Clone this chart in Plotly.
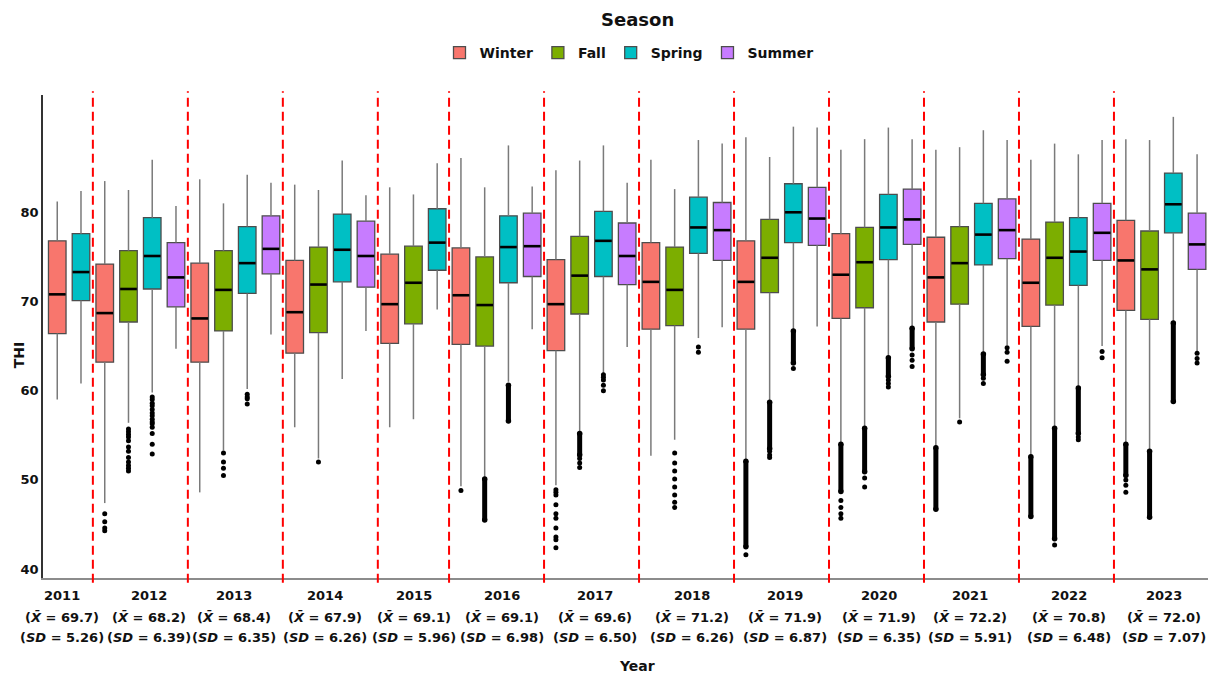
import plotly.graph_objects as go

# ---------------- data ----------------
years = [2011, 2012, 2013, 2014, 2015, 2016, 2017, 2018, 2019, 2020, 2021, 2022, 2023]
year_mean = [69.7, 68.2, 68.4, 67.9, 69.1, 69.1, 69.6, 71.2, 71.9, 71.9, 72.2, 70.8, 72.0]
year_sd = ["5.26", "6.39", "6.35", "6.26", "5.96", "6.98", "6.50", "6.26", "6.87", "6.35", "5.91", "6.48", "7.07"]

seasons = ["Winter", "Fall", "Spring", "Summer"]
season_colors = {"Winter": "#F8766D", "Fall": "#7CAE00", "Spring": "#00BFC4", "Summer": "#C77CFF"}

box_year = [2011, 2011,
            2012, 2012, 2012, 2012,
            2013, 2013, 2013, 2013,
            2014, 2014, 2014, 2014,
            2015, 2015, 2015,
            2016, 2016, 2016, 2016,
            2017, 2017, 2017, 2017,
            2018, 2018, 2018, 2018,
            2019, 2019, 2019, 2019,
            2020, 2020, 2020, 2020,
            2021, 2021, 2021, 2021,
            2022, 2022, 2022, 2022,
            2023, 2023, 2023, 2023]
box_season = ["Winter", "Spring",
              "Winter", "Fall", "Spring", "Summer",
              "Winter", "Fall", "Spring", "Summer",
              "Winter", "Fall", "Spring", "Summer",
              "Winter", "Fall", "Spring",
              "Winter", "Fall", "Spring", "Summer",
              "Winter", "Fall", "Spring", "Summer",
              "Winter", "Fall", "Spring", "Summer",
              "Winter", "Fall", "Spring", "Summer",
              "Winter", "Fall", "Spring", "Summer",
              "Winter", "Fall", "Spring", "Summer",
              "Winter", "Fall", "Spring", "Summer",
              "Winter", "Fall", "Spring", "Summer"]
box_low = [59.0, 60.8,
           47.4, 56.4, 59.8, 64.7,
           48.6, 53.3, 60.2, 66.3,
           55.9, 52.4, 61.3, 66.7,
           55.9, 56.8, 69.1,
           49.3, 50.2, 61.0, 66.9,
           49.4, 55.4, 61.9, 64.9,
           52.7, 54.5, 65.9, 67.1,
           52.2, 58.8, 66.8, 67.2,
           54.1, 56.0, 63.8, 67.1,
           53.7, 56.9, 64.2, 65.1,
           52.7, 56.0, 60.3, 65.0,
           54.1, 53.3, 67.7, 64.4]
box_q1 = [66.4, 70.1,
          63.2, 67.7, 71.4, 69.4,
          63.2, 66.7, 70.9, 73.1,
          64.2, 66.5, 72.2, 71.6,
          65.3, 67.5, 73.5,
          65.2, 65.0, 72.1, 72.8,
          64.5, 68.6, 72.8, 71.9,
          66.9, 67.3, 75.4, 74.6,
          66.9, 71.0, 76.6, 76.3,
          68.1, 69.3, 74.7, 76.4,
          67.7, 69.7, 74.1, 74.8,
          67.2, 69.6, 71.8, 74.6,
          69.0, 68.0, 77.7, 73.6]
box_med = [70.8, 73.3,
           68.7, 71.4, 75.1, 72.7,
           68.1, 71.3, 74.3, 75.9,
           68.8, 71.9, 75.8, 75.1,
           69.7, 72.1, 76.6,
           70.7, 69.6, 76.1, 76.2,
           69.7, 72.9, 76.8, 75.1,
           72.2, 71.3, 78.3, 78.0,
           72.2, 74.9, 80.0, 79.3,
           73.0, 74.4, 78.3, 79.2,
           72.7, 74.3, 77.5, 78.0,
           72.1, 74.9, 75.6, 77.7,
           74.6, 73.6, 80.9, 76.4]
box_q3 = [76.8, 77.6,
          74.2, 75.7, 79.4, 76.6,
          74.3, 75.7, 78.4, 79.6,
          74.6, 76.1, 79.8, 79.0,
          75.3, 76.2, 80.4,
          76.0, 75.0, 79.6, 79.9,
          74.7, 77.3, 80.1, 78.8,
          76.6, 76.1, 81.7, 81.1,
          76.8, 79.2, 83.2, 82.8,
          77.6, 78.3, 82.0, 82.6,
          77.2, 78.4, 81.0, 81.5,
          77.0, 78.9, 79.4, 81.0,
          79.1, 77.9, 84.4, 79.9]
box_high = [81.2, 82.4,
            83.5, 82.5, 85.9, 80.7,
            83.7, 81.0, 84.2, 83.3,
            83.1, 82.5, 85.8, 81.9,
            82.8, 82.0, 85.5,
            86.1, 82.8, 87.5, 82.9,
            84.7, 85.8, 87.5, 83.3,
            85.9, 82.6, 88.1, 87.7,
            88.4, 86.2, 89.6, 89.5,
            87.0, 88.2, 89.5, 88.2,
            87.0, 87.3, 89.2, 88.1,
            85.9, 87.7, 86.5, 88.1,
            88.2, 88.1, 90.7, 86.5]

# individual outliers: (box index, THI value)
outlier_box = ([2] * 4 + [3] * 12 + [4] * 14 + [7] * 4 + [8] * 4 + [11] + [17] + [21] * 10 + [22] * 3
               + [23] * 5 + [26] * 8 + [27] * 2 + [29] + [30] * 3 + [31] + [33] * 4 + [34] * 2
               + [35] * 3 + [36] * 3 + [38] + [39] * 2 + [40] * 3 + [42] + [43] * 2 + [44] * 2
               + [45] * 3 + [48] * 3)
outlier_val = [46.2, 45.3, 44.6, 44.3,
               55.7, 55.4, 55.1, 54.8, 54.4, 53.7, 53.2, 52.5, 52.0, 51.6, 51.3, 51.0,
               59.3, 59.0, 58.6, 58.3, 57.9, 57.5, 57.2, 56.8, 56.5, 56.3, 55.9, 55.2, 54.0, 52.9,
               53.0, 52.0, 51.3, 50.5,
               59.6, 59.3, 59.1, 58.5,
               52.0,
               48.8,
               48.9, 48.6, 48.3, 47.2, 46.2, 45.7, 44.6, 43.6, 43.3, 42.4,
               52.4, 51.9, 51.4,
               61.8, 61.5, 61.2, 60.6, 60.0,
               53.0, 51.9, 51.0, 50.1, 49.2, 48.3, 47.5, 46.9,
               64.9, 64.3,
               41.6,
               53.2, 52.8, 52.5,
               62.5,
               47.7, 46.9, 46.2, 45.7,
               50.2, 49.2,
               61.2, 60.8, 60.4,
               64.0, 63.4, 62.7,
               56.5,
               61.4, 60.8,
               64.8, 64.3, 63.3,
               42.7,
               54.8, 54.5,
               64.4, 63.7,
               50.0, 49.4, 48.6,
               64.2, 63.6, 63.1]

# runs of outliers so dense that they merge into a solid column: (box index, low, high)
dense_box = [18, 19, 22, 29, 30, 31, 33, 34, 35, 36, 37, 39, 41, 42, 43, 45, 46, 47]
dense_lo = [45.5, 56.6, 52.8, 42.5, 53.5, 63.1, 48.7, 50.9, 61.6, 64.7, 46.7, 61.8, 45.9, 43.4, 55.2, 50.5, 45.8, 58.8]
dense_hi = [50.1, 60.6, 55.2, 52.1, 58.7, 66.7, 54.0, 55.8, 63.7, 67.0, 53.6, 64.1, 52.6, 55.8, 60.3, 54.0, 53.2, 67.6]

# ---------------- layout helpers (not data) ----------------
FONT = "DejaVu Sans"
BOX_W = 0.74
# horizontal nudge of each year's label block, in box slots, so neighbouring labels do not collide
label_shift = [-0.30, 0.36, -0.06, -0.21, 0.03, 0.24, 0.14, 0.21, 0.15, 0.12, -0.07, 0.12, 0.11]
label_rows = [-0.0366, -0.0822, -0.124]

pos = list(range(len(box_year)))

fig = go.Figure()

# boxes (whiskers are drawn separately in a lighter grey)
for s in seasons:
    idx = [i for i in pos if box_season[i] == s]
    fig.add_trace(go.Box(
        x=idx,
        q1=[box_q1[i] for i in idx],
        median=[box_med[i] for i in idx],
        q3=[box_q3[i] for i in idx],
        lowerfence=[box_q1[i] for i in idx],
        upperfence=[box_q3[i] for i in idx],
        name=s,
        fillcolor=season_colors[s],
        line=dict(color="#4d4d4d", width=1.3),
        whiskerwidth=0,
        width=BOX_W,
        boxpoints=False,
        hoverinfo="skip",
    ))

# whiskers
wx, wy = [], []
for i in pos:
    wx += [i, i, None, i, i, None]
    wy += [box_low[i], box_q1[i], None, box_q3[i], box_high[i], None]
fig.add_trace(go.Scatter(x=wx, y=wy, mode="lines", line=dict(color="#7a7a7a", width=1.5),
                         showlegend=False, hoverinfo="skip"))

# thick black medians
mx, my = [], []
for i in pos:
    mx += [i - BOX_W / 2 + 0.02, i + BOX_W / 2 - 0.02, None]
    my += [box_med[i], box_med[i], None]
fig.add_trace(go.Scatter(x=mx, y=my, mode="lines", line=dict(color="black", width=2.6),
                         showlegend=False, hoverinfo="skip"))

# dense outlier columns
dx, dy = [], []
ex, ey = [], []
for b, lo, hi in zip(dense_box, dense_lo, dense_hi):
    dx += [b, b, None]
    dy += [lo, hi, None]
    ex += [b, b]
    ey += [lo, hi]
fig.add_trace(go.Scatter(x=dx, y=dy, mode="lines", line=dict(color="black", width=5),
                         showlegend=False, hoverinfo="skip"))
fig.add_trace(go.Scatter(x=ex, y=ey, mode="markers", marker=dict(color="black", size=5.5),
                         showlegend=False, hoverinfo="skip"))

# single outliers
fig.add_trace(go.Scatter(x=outlier_box, y=outlier_val, mode="markers",
                         marker=dict(color="black", size=5), showlegend=False, hoverinfo="skip"))

# year separators and labels
shapes = []
annotations = []
for k, yr in enumerate(years):
    members = [i for i in pos if box_year[i] == yr]
    xc = sum(members) / len(members) + label_shift[k]
    lines = [f"<b>{yr}</b>",
             f"<b>(<i>X̄</i> = {year_mean[k]:.1f})</b>",
             f"<b>(<i>SD</i> = {year_sd[k]})</b>"]
    for txt, yy in zip(lines, label_rows):
        annotations.append(dict(x=xc, y=yy, xref="x", yref="paper", text=txt, showarrow=False,
                                xanchor="center", yanchor="middle",
                                font=dict(family=FONT, size=13, color="#111111")))
    if k > 0:
        xb = members[0] - 0.5
        shapes.append(dict(type="line", xref="x", yref="paper", x0=xb, x1=xb, y0=-0.01, y1=1.008,
                           line=dict(color="#ff0000", width=2, dash="9px,5px")))

annotations.append(dict(x=0.51, y=-0.182, xref="paper", yref="paper", text="<b>Year</b>",
                        showarrow=False, xanchor="center", yanchor="middle",
                        font=dict(family=FONT, size=14, color="#111111")))
annotations.append(dict(x=-0.021, y=0.46, xref="paper", yref="paper", text="<b>THI</b>",
                        showarrow=False, textangle=-90, xanchor="center", yanchor="middle",
                        font=dict(family=FONT, size=14, color="#111111")))
annotations.append(dict(x=0.51, y=1.157, xref="paper", yref="paper", text="<b>Season</b>",
                        showarrow=False, xanchor="center", yanchor="middle",
                        font=dict(family=FONT, size=18, color="#111111")))

fig.update_layout(
    width=1208, height=675,
    margin=dict(l=43, r=0, t=95, b=97),
    paper_bgcolor="white", plot_bgcolor="white",
    boxmode="overlay",
    font=dict(family=FONT, color="#111111"),
    showlegend=True,
    legend=dict(orientation="h", x=0.503, xanchor="center", y=1.12, yanchor="top",
                font=dict(family=FONT, size=14, color="#111111", weight="bold"),
                itemwidth=30, traceorder="normal"),
    shapes=shapes,
    annotations=annotations,
)
fig.update_xaxes(range=[-0.6, 48.46], showline=True, linecolor="#8c8c8c", linewidth=2,
                 showticklabels=False, ticks="", showgrid=False, zeroline=False)
fig.update_yaxes(range=[39.0, 93.15], tickvals=[40, 50, 60, 70, 80], showline=True,
                 linecolor="#333333", linewidth=1.5, ticks="", showgrid=False, zeroline=False,
                 tickfont=dict(family=FONT, size=13, color="#111111", weight="bold"))

fig.write_html("out.html")
